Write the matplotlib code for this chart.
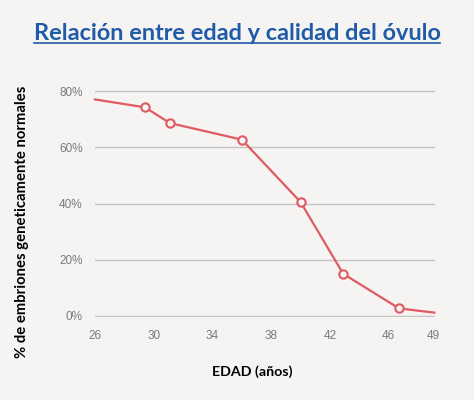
import matplotlib
matplotlib.use("Agg")
import matplotlib.pyplot as plt
from matplotlib.lines import Line2D

# Data
ages = [26.0, 29.4, 31.1, 36.0, 40.0, 42.9, 46.7, 49.1]
values = [77.0, 74.2, 68.6, 62.7, 40.5, 15.0, 2.7, 1.2]
marker_flags = [False, True, True, True, True, True, True, False]
x_ticks = [26, 30, 34, 38, 42, 46, 49]
y_ticks = [0, 20, 40, 60, 80]
y_tick_labels = ["0%", "20%", "40%", "60%", "80%"]

title = "Relación entre edad y calidad del óvulo"
xlabel = "EDAD (años)"
ylabel = "% de embriones geneticamente normales"

bg = "#f5f4f2"
line_color = "#e05a62"
title_color = "#1f5ba8"

fig = plt.figure(figsize=(4.74, 4.0), dpi=100, facecolor=bg)
ax = fig.add_axes([95 / 474, 1 - 317.4 / 400, (435 - 95) / 474, (317.4 - 89.6) / 400])
ax.set_facecolor(bg)

ax.set_xlim(26, 49.15)
ax.set_ylim(-0.5, 80.5)
for s in ax.spines.values():
    s.set_visible(False)

ax.set_yticks(y_ticks)
ax.set_yticklabels(y_tick_labels)
ax.set_xticks(x_ticks)
ax.set_xticklabels([str(t) for t in x_ticks])
ax.tick_params(axis="both", length=0, labelsize=8.5, labelcolor="#7a7a7a")
ax.tick_params(axis="y", pad=9)
ax.tick_params(axis="x", pad=9)
for lbl in ax.get_xticklabels() + ax.get_yticklabels():
    lbl.set_family(["Liberation Sans", "DejaVu Sans"])

ax.grid(axis="y", color="#c4c4c4", linewidth=1.0)
ax.set_axisbelow(True)

ax.plot(ages, values, color=line_color, linewidth=1.6, clip_on=False, zorder=3)
mx = [a for a, f in zip(ages, marker_flags) if f]
my = [v for v, f in zip(values, marker_flags) if f]
ax.plot(mx, my, linestyle="none", marker="o", markersize=6.0,
        markerfacecolor=bg, markeredgecolor=line_color, markeredgewidth=1.5,
        clip_on=False, zorder=4)

# Title
t = fig.text(0.5, 1 - 34 / 400, title, ha="center", va="center",
             fontsize=16.9, fontweight="bold", color=title_color,
             family=["Lato", "DejaVu Sans"])

# Axis labels
fig.text(252 / 474, 1 - 372 / 400, xlabel, ha="center", va="center",
         fontsize=10.3, fontweight="bold", color="black",
         family=["Lato", "DejaVu Sans"])
fig.text(22 / 474, 1 - 222 / 400, ylabel, ha="center", va="center",
         rotation=90, fontsize=10.7, fontweight="bold", color="black",
         family=["Lato", "DejaVu Sans"])

# Underline for the title
fig.canvas.draw()
bb = t.get_window_extent(renderer=fig.canvas.get_renderer())
inv = fig.transFigure.inverted()
(x0, y0), (x1, y1) = inv.transform([(bb.x0, bb.y0), (bb.x1, bb.y1)])
uy = y0 + 0.004
fig.add_artist(Line2D([x0, x1], [uy, uy], transform=fig.transFigure,
                      color=title_color, linewidth=1.2))

fig.savefig("out.png", dpi=100, facecolor=bg)
